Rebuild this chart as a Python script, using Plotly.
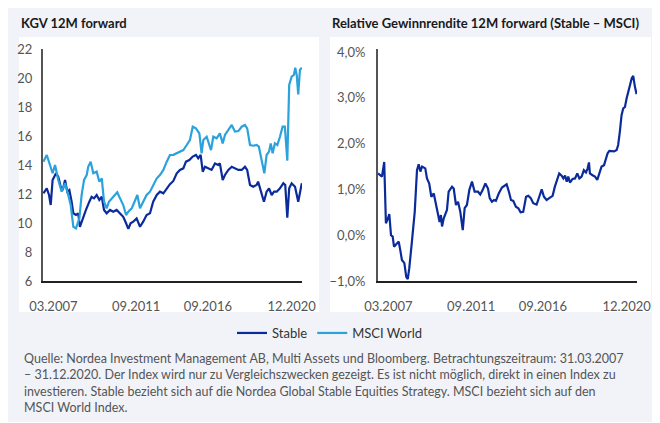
import plotly.graph_objects as go

# ---- data (decimal years) ----
stable_years = [2007.27, 2007.45, 2007.57, 2007.66, 2007.76, 2007.94, 2008.06, 2008.19, 2008.30, 2008.42,
                2008.54, 2008.65, 2008.77, 2008.86, 2009.00, 2009.12, 2009.21, 2009.36, 2009.53, 2009.71,
                2009.83, 2009.96, 2010.10, 2010.24, 2010.37, 2010.49, 2010.63, 2010.81, 2010.98, 2011.16,
                2011.34, 2011.51, 2011.66, 2011.78, 2011.90, 2012.04, 2012.22, 2012.40, 2012.57, 2012.75,
                2012.93, 2013.10, 2013.29, 2013.46, 2013.64, 2013.82, 2013.99, 2014.17, 2014.35, 2014.52,
                2014.70, 2014.84, 2015.02, 2015.20, 2015.37, 2015.49, 2015.62, 2015.73, 2015.85, 2016.02,
                2016.20, 2016.38, 2016.55, 2016.64, 2016.79, 2016.91, 2017.09, 2017.27, 2017.44, 2017.62,
                2017.80, 2017.97, 2018.09, 2018.24, 2018.41, 2018.59, 2018.67, 2018.80, 2018.98, 2019.12,
                2019.25, 2019.39, 2019.52, 2019.66, 2019.83, 2020.01, 2020.11, 2020.22, 2020.32, 2020.45,
                2020.63, 2020.80, 2020.93, 2020.99]
stable_pe = [12.05, 12.39, 11.93, 11.24, 12.97, 13.43, 13.19, 12.50, 12.28, 12.97,
             12.16, 12.28, 11.47, 10.67, 10.55, 10.67, 9.74, 10.32, 10.90, 11.47,
             11.81, 11.70, 11.93, 11.59, 11.81, 10.90, 10.67, 10.90, 10.78, 10.90,
             10.67, 10.43, 9.98, 9.59, 9.98, 10.09, 10.32, 9.74, 10.09, 10.55,
             10.67, 11.47, 11.93, 12.16, 12.05, 12.39, 12.68, 12.90, 13.43, 13.66,
             13.77, 14.23, 14.34, 14.58, 14.69, 14.46, 14.69, 13.54, 13.88, 13.77,
             13.66, 14.11, 14.00, 14.11, 12.97, 13.31, 13.66, 13.88, 13.77, 13.66,
             13.66, 13.88, 13.66, 12.62, 12.50, 12.62, 12.85, 12.28, 11.47, 12.16,
             12.39, 11.93, 12.16, 12.16, 12.39, 12.74, 12.62, 10.37, 12.39, 12.74,
             12.50, 11.47, 12.50, 12.74]

msci_years = [2007.27, 2007.45, 2007.62, 2007.76, 2007.89, 2008.06, 2008.24, 2008.42, 2008.59, 2008.72,
              2008.86, 2009.00, 2009.18, 2009.30, 2009.43, 2009.57, 2009.65, 2009.78, 2009.92, 2010.10,
              2010.24, 2010.37, 2010.49, 2010.63, 2010.75, 2010.90, 2011.07, 2011.19, 2011.34, 2011.51,
              2011.66, 2011.78, 2011.96, 2012.13, 2012.26, 2012.40, 2012.57, 2012.75, 2012.93, 2013.10,
              2013.29, 2013.46, 2013.64, 2013.82, 2013.99, 2014.17, 2014.35, 2014.52, 2014.70, 2014.88,
              2015.05, 2015.20, 2015.37, 2015.55, 2015.67, 2015.76, 2015.94, 2016.08, 2016.17, 2016.29,
              2016.47, 2016.64, 2016.79, 2016.91, 2017.09, 2017.27, 2017.44, 2017.62, 2017.80, 2017.97,
              2018.09, 2018.24, 2018.41, 2018.59, 2018.71, 2018.86, 2019.00, 2019.12, 2019.25, 2019.34,
              2019.44, 2019.56, 2019.69, 2019.83, 2019.97, 2020.09, 2020.22, 2020.32, 2020.45, 2020.57,
              2020.64, 2020.72, 2020.80, 2020.89, 2020.99]
msci_pe = [14.23, 14.69, 14.00, 13.43, 14.00, 12.97, 12.16, 12.74, 11.93, 11.24,
           9.74, 9.63, 10.32, 11.93, 12.97, 13.31, 13.88, 14.23, 13.43, 13.54,
           12.85, 13.08, 11.47, 11.01, 11.47, 11.70, 11.93, 12.12, 11.70, 11.24,
           10.55, 10.78, 11.01, 11.47, 11.93, 11.01, 11.47, 11.93, 12.16, 12.62,
           13.08, 13.31, 13.66, 14.23, 14.69, 14.70, 14.81, 14.92, 15.03, 15.38,
           15.72, 16.64, 16.53, 16.18, 14.81, 15.72, 15.95, 15.38, 15.03, 15.95,
           15.84, 16.18, 15.49, 16.07, 16.41, 16.76, 16.30, 16.34, 16.64, 16.76,
           16.53, 15.38, 15.33, 15.38, 15.26, 14.23, 13.43, 14.69, 14.92, 15.49,
           14.81, 15.49, 15.38, 15.95, 16.64, 16.64, 14.30, 19.52, 20.09, 20.21,
           20.71, 20.20, 18.87, 20.55, 20.71]

rel_years = [2007.25, 2007.37, 2007.46, 2007.58, 2007.67, 2007.78, 2007.85, 2007.94, 2008.03, 2008.10,
             2008.21, 2008.35, 2008.43, 2008.52, 2008.65, 2008.75, 2008.83, 2008.91, 2009.05, 2009.20,
             2009.32, 2009.41, 2009.50, 2009.59, 2009.76, 2009.85, 2009.97, 2010.08, 2010.21, 2010.33,
             2010.43, 2010.52, 2010.59, 2010.65, 2010.74, 2010.82, 2010.91, 2011.00, 2011.18, 2011.27,
             2011.39, 2011.50, 2011.62, 2011.75, 2011.85, 2011.97, 2012.10, 2012.24, 2012.38, 2012.56,
             2012.68, 2012.81, 2012.95, 2013.09, 2013.18, 2013.30, 2013.41, 2013.51, 2013.66, 2013.83,
             2013.97, 2014.08, 2014.20, 2014.31, 2014.43, 2014.57, 2014.70, 2014.82, 2014.96, 2015.11,
             2015.23, 2015.36, 2015.49, 2015.67, 2015.81, 2015.94, 2016.06, 2016.20, 2016.38, 2016.52,
             2016.64, 2016.77, 2016.87, 2017.00, 2017.09, 2017.18, 2017.27, 2017.35, 2017.44, 2017.58,
             2017.71, 2017.83, 2017.94, 2018.06, 2018.18, 2018.29, 2018.38, 2018.45, 2018.50, 2018.64,
             2018.77, 2018.89, 2019.00, 2019.12, 2019.25, 2019.35, 2019.44, 2019.53, 2019.65, 2019.78,
             2019.92, 2020.00, 2020.09, 2020.18, 2020.27, 2020.36, 2020.45, 2020.53, 2020.63, 2020.72,
             2020.80, 2020.89, 2020.98]
rel_yield = [1.35, 1.31, 1.28, 1.60, 0.26, 0.37, 0.46, 0.00, -0.03, -0.25,
             -0.21, -0.14, -0.32, -0.54, -0.61, -0.91, -0.96, -0.72, -0.14, 0.51,
             1.42, 1.55, 1.39, 1.50, 1.46, 1.24, 1.13, 0.84, 0.91, 0.66,
             0.44, 0.29, 0.44, 0.19, 0.37, 0.48, 0.55, 0.95, 1.06, 1.02,
             0.66, 0.73, 0.51, 0.11, 0.59, 0.66, 0.99, 1.17, 0.95, 0.95,
             0.89, 0.99, 1.13, 1.02, 0.81, 0.73, 0.77, 0.75, 0.91, 1.04,
             1.08, 1.11, 0.95, 0.77, 0.75, 0.62, 0.59, 0.50, 0.51, 0.84,
             0.86, 0.81, 0.70, 0.67, 0.84, 1.00, 0.84, 0.77, 0.82, 0.86,
             1.06, 1.21, 1.35, 1.30, 1.24, 1.30, 1.17, 1.28, 1.15, 1.23,
             1.24, 1.35, 1.24, 1.28, 1.42, 1.37, 1.46, 1.59, 1.35, 1.31,
             1.28, 1.21, 1.35, 1.50, 1.53, 1.68, 1.79, 1.84, 1.83, 1.83,
             1.86, 1.97, 2.26, 2.62, 2.77, 2.80, 2.99, 3.10, 3.28, 3.43,
             3.48, 3.24, 3.08]

tick_positions = [2007.8, 2012.2, 2016.0, 2020.45]
tick_labels = ["03.2007", "09.2011", "09.2016", "12.2020"]
pe_ticks = [6, 8, 10, 12, 14, 16, 18, 20, 22]
rel_ticks = [-1, 0, 1, 2, 3, 4]
rel_tick_labels = ["−1,0%", "0,0%", "1,0%", "2,0%", "3,0%", "4,0%"]

DARK = "#0B2B9B"
LIGHT = "#2BA2DC"
FONT = "Lato"
W, H = 660, 423
OFF = 8  # page body margin offset


def px(x):
    return (x - OFF) / W


def py(y):
    return 1 - (y - OFF) / H


fig = go.Figure()
fig.add_trace(go.Scatter(x=stable_years, y=stable_pe, mode="lines", name="Stable",
                         line=dict(color=DARK, width=2.2), xaxis="x", yaxis="y"))
fig.add_trace(go.Scatter(x=msci_years, y=msci_pe, mode="lines", name="MSCI World",
                         line=dict(color=LIGHT, width=2.2), xaxis="x", yaxis="y"))
fig.add_trace(go.Scatter(x=rel_years, y=rel_yield, mode="lines", name="Stable – MSCI",
                         line=dict(color=DARK, width=2.2), xaxis="x2", yaxis="y2",
                         showlegend=False))

axis_common = dict(showgrid=False, zeroline=False, showline=True, automargin=False,
                   tickfont=dict(family=FONT, size=13, color="#555555"))

ydom = [py(281), py(49)]
fig.update_layout(
    width=W, height=H,
    margin=dict(l=0, r=0, t=0, b=0, pad=0, autoexpand=False),
    paper_bgcolor="white", plot_bgcolor="rgba(0,0,0,0)",
    separators=",.",
    font=dict(family=FONT, color="#555555"),
    xaxis=dict(domain=[px(43), px(302)], range=[2007.25, 2021.0], tickvals=tick_positions,
               ticktext=tick_labels, linecolor="#222222", linewidth=2, ticks="",
               ticklabelstandoff=12, anchor="y", **axis_common),
    yaxis=dict(domain=ydom, range=[6, 22], tickvals=pe_ticks, linecolor="#555555",
               linewidth=2, ticks="", ticklabelstandoff=6, anchor="x", **axis_common),
    xaxis2=dict(domain=[px(378), px(637)], range=[2007.25, 2021.0], tickvals=tick_positions,
                ticktext=tick_labels, linecolor="#222222", linewidth=2, ticks="",
                ticklabelstandoff=12, anchor="y2", **axis_common),
    yaxis2=dict(domain=ydom, range=[-1, 4.066], tickvals=rel_ticks, ticktext=rel_tick_labels,
                linecolor="#555555", linewidth=2, ticks="",
                ticklabelstandoff=8, anchor="x2", **axis_common),
    legend=dict(orientation="h", x=px(330), xanchor="center", y=py(333), yanchor="middle",
                font=dict(family=FONT, size=13, color="#333333"), bgcolor="rgba(0,0,0,0)",
                itemwidth=30, traceorder="normal"),
    showlegend=True,
)

# background panels
fig.add_shape(type="rect", xref="paper", yref="paper", x0=px(8), x1=px(656), y0=py(422), y1=py(2),
              fillcolor="#F1F3F8", line=dict(width=0), layer="below")
fig.add_shape(type="rect", xref="paper", yref="paper", x0=px(19), x1=px(319), y0=py(312), y1=py(37),
              fillcolor="white", line=dict(width=0), layer="below")
fig.add_shape(type="rect", xref="paper", yref="paper", x0=px(330), x1=px(651), y0=py(312), y1=py(37),
              fillcolor="white", line=dict(width=0), layer="below")

fig.add_annotation(text="<b>KGV 12M forward</b>", xref="paper", yref="paper", x=px(19), y=py(23),
                   xanchor="left", yanchor="middle", showarrow=False,
                   font=dict(family=FONT, size=13, color="#1a1a1a"))
fig.add_annotation(text="<b>Relative Gewinnrendite 12M forward (Stable – MSCI)</b>", xref="paper",
                   yref="paper", x=px(330), y=py(23), xanchor="left", yanchor="middle",
                   showarrow=False, font=dict(family=FONT, size=13, color="#1a1a1a"))

source = ("Quelle: Nordea Investment Management AB, Multi Assets und Bloomberg. Betrachtungszeitraum: 31.03.2007<br>"
          "– 31.12.2020. Der Index wird nur zu Vergleichszwecken gezeigt. Es ist nicht möglich, direkt in einen Index zu<br>"
          "investieren. Stable bezieht sich auf die Nordea Global Stable Equities Strategy. MSCI bezieht sich auf den<br>"
          "MSCI World Index.")
fig.add_annotation(text=source, xref="paper", yref="paper", x=px(22), y=py(349), xanchor="left",
                   yanchor="top", align="left", showarrow=False,
                   font=dict(family=FONT, size=12.5, color="#555555"))

fig.write_html("out.html")
